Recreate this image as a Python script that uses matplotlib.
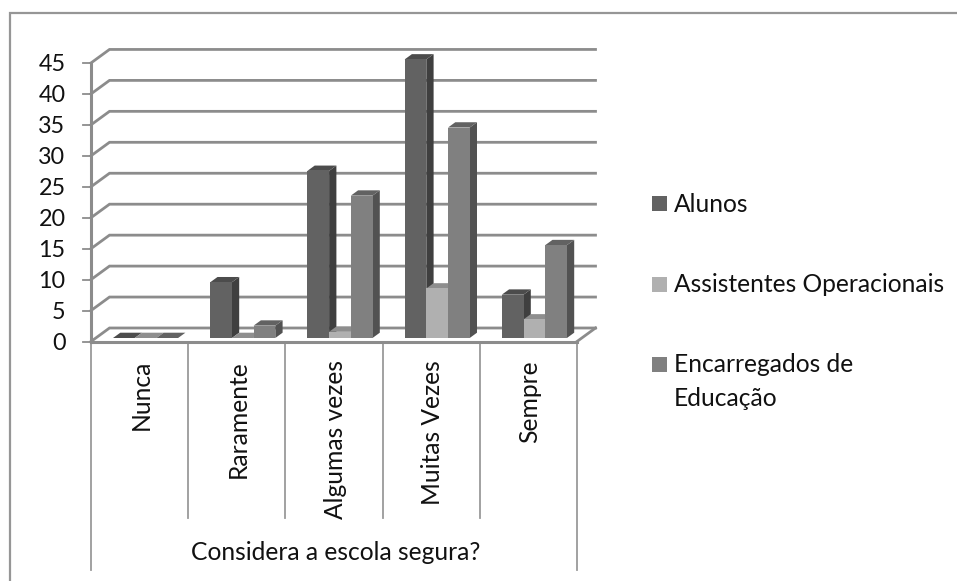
import matplotlib
matplotlib.use("Agg")
import matplotlib.pyplot as plt
from matplotlib.patches import Polygon, Rectangle

# Survey counts per answer
categories = ["Nunca", "Raramente", "Algumas vezes", "Muitas Vezes", "Sempre"]
alunos = [0, 9, 27, 45, 7]
assistentes = [0, 0, 1, 8, 3]
encarregados = [0, 2, 23, 34, 15]
series_names = ["Alunos", "Assistentes Operacionais", "Encarregados de\nEducação"]
y_ticks = list(range(0, 50, 5))
group_title = "Considera a escola segura?"

W, H = 957, 581
FONT = "Lato"
FS = 17.7
FS_TICK = 16.8
GREY = "#8c8c8c"
TEXT = "#111111"

# Pixel anchors of the plot frame
X0, XU = 91.0, 97.2      # left edge, width of one category
Y0, YU = 341.5, 6.19     # zero line, height of one unit
DX, DY = 18.5, 13.5      # depth of the back wall
BAR_DX, BAR_DY = 7.3, 5.3
BAR_LIFT = 3.5
BAR_W = 21.7 / XU
BAR_START = 22.0 / XU

# Front faces, tops and sides per series
face = ["#626262", "#b0b0b0", "#808080"]
top = ["#4c4c4c", "#8e8e8e", "#626262"]
side = ["#3f3f3f", "#828282", "#525252"]

fig = plt.figure(figsize=(W / 100, H / 100), dpi=100, facecolor="white")
ax = fig.add_axes([0, 0, 1, 1])
ax.set_xlim(-X0 / XU, (W - X0) / XU)
ax.set_ylim(-(H - Y0) / YU, Y0 / YU)
ax.axis("off")


def px(x):
    return (x - X0) / XU


def py(y):
    return (Y0 - y) / YU


dx, dy = DX / XU, DY / YU
bdx, bdy = BAR_DX / XU, BAR_DY / YU
lift = BAR_LIFT / YU
n = len(categories)

# Outer chart frame: top and left edges only
ax.plot([px(W), px(9.5), px(9.5)], [py(12.5), py(12.5), py(H)], color="#969696", lw=1.6,
        zorder=1, solid_joinstyle="miter")

# Back wall gridlines with their slanted ends, then the floor
for v in y_ticks:
    ax.plot([0, dx, n + dx], [v, v + dy, v + dy], color=GREY, lw=2.0, zorder=2,
            solid_joinstyle="miter")
    ax.plot([-8 / XU, 0], [v, v], color=GREY, lw=1.3, zorder=2)
    ax.text(px(65.5), v, str(v), ha="right", va="center_baseline", fontsize=FS_TICK,
            family=FONT, color=TEXT)
ax.plot([n, n + dx], [0, dy], color=GREY, lw=2.0, zorder=2)
ax.plot([0, 0], [0, y_ticks[-1]], color=GREY, lw=2.2, zorder=3)
ax.plot([0, n], [0, 0], color=GREY, lw=2.2, zorder=3)

# Category separators below the axis
for i in range(n + 1):
    low = py(570) if i in (0, n) else py(518)
    ax.plot([i, i], [0, low], color="#9a9a9a", lw=1.3, zorder=2)

# Bars as extruded boxes, left to right within each category
series = [alunos, assistentes, encarregados]
for c in range(n):
    for s, vals in enumerate(series):
        v = vals[c]
        x0 = c + BAR_START + s * BAR_W
        x1 = x0 + BAR_W
        y0 = lift
        y1 = lift + v
        z = 5 + c + s * 0.1
        ax.add_patch(Polygon([(x1, y0), (x1 + bdx, y0 + bdy), (x1 + bdx, y1 + bdy), (x1, y1)],
                             fc=side[s], ec="none", zorder=z))
        ax.add_patch(Polygon([(x0, y1), (x1, y1), (x1 + bdx, y1 + bdy), (x0 + bdx, y1 + bdy)],
                             fc=top[s], ec="none", zorder=z + 0.01))
        ax.add_patch(Rectangle((x0, y0), BAR_W, v, fc=face[s], ec="none", zorder=z + 0.02))

# Rotated category labels, top-aligned under the axis
for c, name in enumerate(categories):
    ax.text(c + 0.5 + 1.5 / XU, py(360), name, rotation=90, ha="center", va="top",
            fontsize=FS, family=FONT, color=TEXT)
ax.text(px(336), py(553), group_title, ha="center", va="center",
        fontsize=FS, family=FONT, color=TEXT)

# Legend
swatch_top = [196, 277, 357]
text_y = [204, 285, 381.5]
for name, col, sy, ty in zip(series_names, face, swatch_top, text_y):
    ax.add_patch(Rectangle((px(652), py(sy + 15)), 15 / XU, 15 / YU, fc=col, ec="none"))
    ax.text(px(674), py(ty), name, ha="left", va="center", fontsize=FS,
            family=FONT, color=TEXT, linespacing=1.58)

fig.savefig("out.png", dpi=100, facecolor="white")
